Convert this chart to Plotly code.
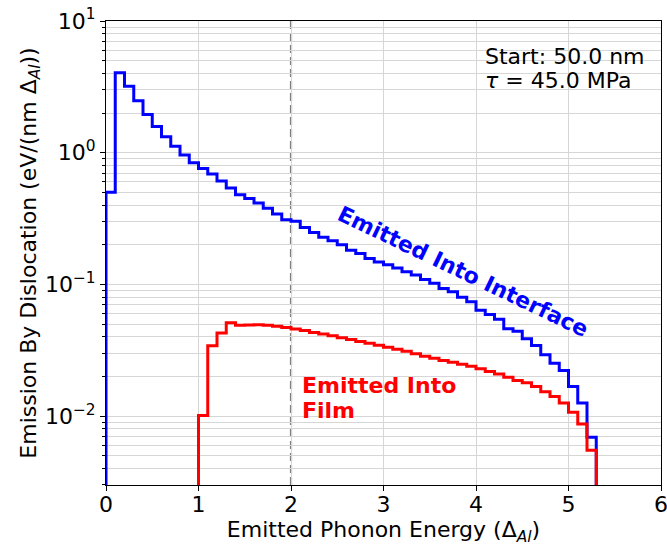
import plotly.graph_objects as go

# ---------------- data ----------------
bin_width = 0.1
blue_start = 0.0
blue_values = [0.50, 4.05, 3.2, 2.48, 1.95, 1.58, 1.32, 1.12, 0.96, 0.84,
               0.76, 0.69, 0.61, 0.54, 0.48, 0.45, 0.415, 0.378, 0.343, 0.31,
               0.302, 0.27, 0.248, 0.228, 0.215, 0.2, 0.182, 0.172, 0.157, 0.148,
               0.141, 0.133, 0.125, 0.118, 0.109, 0.102, 0.093, 0.088, 0.080, 0.0738,
               0.0637, 0.059, 0.0544, 0.0461, 0.044, 0.0387, 0.0344, 0.0292, 0.0252, 0.0222,
               0.0168, 0.0126, 0.0069]
red_start = 1.0
red_values = [0.0101, 0.0342, 0.0428, 0.0511, 0.0490, 0.0492, 0.0494, 0.0490, 0.0481, 0.0470,
              0.0458, 0.0446, 0.0432, 0.0420, 0.0407, 0.0394, 0.0381, 0.0369, 0.0357, 0.0345,
              0.0333, 0.0322, 0.0311, 0.0297, 0.0285, 0.0275, 0.0264, 0.0257, 0.0248, 0.0239,
              0.0229, 0.0218, 0.0209, 0.0197, 0.0186, 0.0179, 0.0168, 0.0153, 0.0141, 0.0126,
              0.0107, 0.0087, 0.0055]

y_tickvals = [0.01, 0.1, 1, 10]
y_ticktext = ["10<sup>\u22122</sup>", "10<sup>\u22121</sup>", "10<sup>0</sup>", "10<sup>1</sup>"]
y_minor = [k * 10.0 ** n for n in range(-3, 1) for k in range(2, 10)]
x_ticks = [0, 1, 2, 3, 4, 5, 6]
marker_energy = 2.0

FLOOR = 1e-6  # below the axis, so the step outline drops to the bottom edge


def step_outline(start, values):
    edges = [round(start + bin_width * i, 4) for i in range(len(values) + 1)]
    xs = [edges[0]] + edges
    ys = [FLOOR] + list(values) + [FLOOR]
    return xs, ys


FONT = "DejaVu Sans"
FS = 22
fig = go.Figure()

bx, by = step_outline(blue_start, blue_values)
rx, ry = step_outline(red_start, red_values)
fig.add_trace(go.Scatter(x=bx, y=by, mode="lines", line=dict(color="#0000ff", width=3, shape="hv"),
                         showlegend=False, hoverinfo="skip"))
fig.add_trace(go.Scatter(x=rx, y=ry, mode="lines", line=dict(color="#ff0000", width=3, shape="hv"),
                         showlegend=False, hoverinfo="skip"))

fig.add_shape(type="line", xref="x", yref="paper", x0=marker_energy, x1=marker_energy, y0=0, y1=1,
              line=dict(color="#7f7f7f", width=2.2, dash="8px,4px"), layer="below")

grid = "#d6d6d6"
fig.update_layout(
    width=667, height=546,
    margin=dict(l=106, r=6, t=21, b=61),
    paper_bgcolor="white", plot_bgcolor="white",
    font=dict(family=FONT, size=FS, color="black"),
    xaxis=dict(range=[0, 6], tickmode="array", tickvals=x_ticks, ticks="outside", ticklen=5,
               tickwidth=1, tickcolor="black", showline=True, linecolor="black", linewidth=1,
               mirror=True, showgrid=True, gridcolor=grid, gridwidth=1, zeroline=False,
               automargin=False, tickfont=dict(size=FS), ticklabelstandoff=-5,
               ticklabeloverflow="allow",
               title=dict(text="Emitted Phonon Energy (\u0394<sub><i>Al</i></sub>)", font=dict(size=FS),
                          standoff=9)),
    yaxis=dict(type="log", range=[-2.523, 1], tickmode="array", tickvals=y_tickvals, ticktext=y_ticktext,
               ticks="outside", ticklen=5, tickwidth=1, tickcolor="black", showline=True,
               linecolor="black", linewidth=1, mirror=True, showgrid=True, gridcolor=grid,
               gridwidth=1, zeroline=False, automargin=False, tickfont=dict(size=FS),
               minor=dict(tickmode="array", tickvals=y_minor, ticks="outside", ticklen=3,
                          tickcolor="black", showgrid=True, gridcolor=grid, gridwidth=1),
               title=dict(text="Emission By Dislocation (eV/(nm \u0394<sub><i>Al</i></sub>))",
                          font=dict(size=FS), standoff=2)),
)

ann_font = dict(family=FONT, size=FS, color="black")
fig.add_annotation(x=4.08, y=0.73, xref="x", yref="y", text="Start: 50.0 nm", showarrow=False,
                   xanchor="left", yanchor="middle", font=ann_font)
fig.add_annotation(x=4.08, y=0.547, xref="x", yref="y", text="<i>\u03c4</i> = 45.0 MPa", showarrow=False,
                   xanchor="left", yanchor="middle", font=ann_font)

fig.add_annotation(x=2.1, y=-1.766, xref="x", yref="y", text="<b>Emitted Into</b>", showarrow=False,
                   xanchor="left", yanchor="middle", font=dict(family=FONT, size=FS, color="#ff0000"))
fig.add_annotation(x=2.1, y=-1.957, xref="x", yref="y", text="<b>Film</b>", showarrow=False,
                   xanchor="left", yanchor="middle", font=dict(family=FONT, size=FS, color="#ff0000"))

fig.add_annotation(x=3.86, y=-0.9, xref="x", yref="y", text="<b>Emitted Into Interface</b>",
                   showarrow=False, textangle=25.5, xanchor="center", yanchor="middle",
                   font=dict(family=FONT, size=FS, color="#0000ff"))

fig.write_html("out.html", config={"displayModeBar": False},
               post_script="document.body.style.margin='0';document.body.style.padding='0';")
